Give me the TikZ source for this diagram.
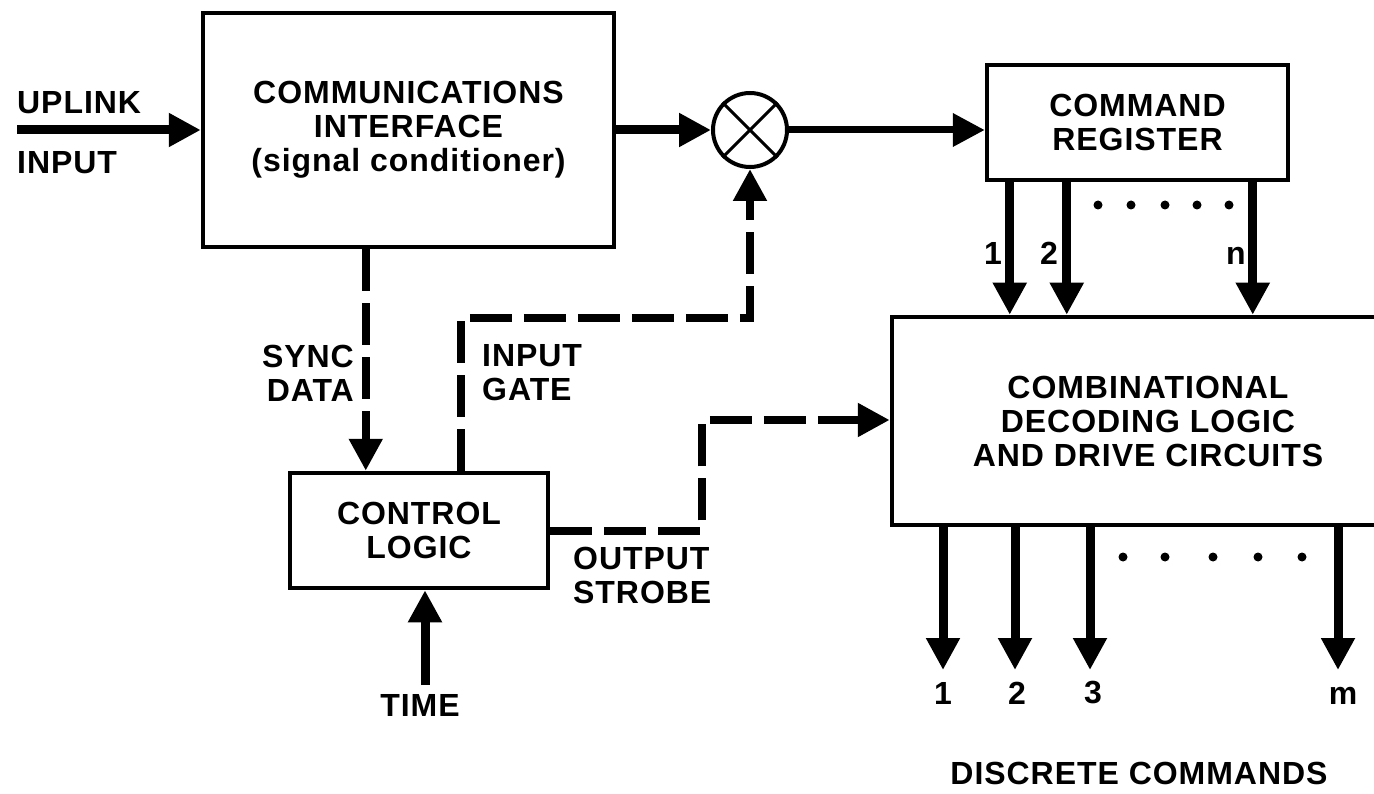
\documentclass[tikz,border=0pt]{standalone}
\usepackage{fontspec}
\setmainfont{Liberation Sans}[LetterSpace=3]
\usetikzlibrary{arrows.meta}
\newcommand\diagfont{\fontsize{32}{34}\selectfont\bfseries}
\begin{document}
\begin{tikzpicture}[x=1pt,y=-1pt,
  box/.style={draw,line width=4.5pt,inner sep=0pt,align=center,font=\diagfont},
  lab/.style={inner sep=0pt,font=\diagfont},
  tip/.style={-{Triangle[length=32pt,width=32pt]}},
  solidarrow/.style={tip,line width=9pt},
  thinarrow/.style={tip,line width=7pt},
  dasharrow/.style={tip,line width=8pt,dash pattern=on 42pt off 12pt,line join=miter},
  dotmark/.style={circle,fill,inner sep=0pt,minimum size=9pt}
]
\useasboundingbox (0,0) rectangle (1374,794);
\clip (0,0) rectangle (1374,794);

% blocks
\node[box,minimum width=411pt,minimum height=234pt] (comm) at (408.5,130)
  {COMMUNICATIONS\\INTERFACE\\(signal conditioner)};
\node[draw,circle,line width=4pt,minimum size=74pt,inner sep=0pt] (mix) at (750,130) {};
\draw[line width=3pt] (mix.north west) -- (mix.south east);
\draw[line width=3pt] (mix.north east) -- (mix.south west);
\node[box,minimum width=301pt,minimum height=115pt] (reg) at (1137.5,122.5)
  {COMMAND\\REGISTER};
\node[box,minimum width=512pt,minimum height=208pt] (comb) at (1148,421)
  {COMBINATIONAL\\DECODING LOGIC\\AND DRIVE CIRCUITS};
\node[box,minimum width=258pt,minimum height=115pt] (ctrl) at (419,530.5)
  {CONTROL\\LOGIC};

% uplink input
\coordinate (upsrc) at (17,130);
\draw[solidarrow] (upsrc) -- (comm.west);
\node[lab,anchor=west] (uplab) at (17,103) {UPLINK};
\node[lab,anchor=west] (inlab) at (17,163) {INPUT};

% comm -> mixer -> register
\draw[solidarrow] (comm.east) -- (mix.west);
\draw[thinarrow] (mix.east) -- (mix.east -| reg.west);

% register -> combinational
\draw[solidarrow] ([xshift=25pt]reg.south west) -- ([xshift=25pt]reg.south west |- comb.north);
\draw[solidarrow] ([xshift=82pt]reg.south west) -- ([xshift=82pt]reg.south west |- comb.north);
\draw[solidarrow] ([xshift=268pt]reg.south west) -- ([xshift=268pt]reg.south west |- comb.north);
\node[lab] (r1) at (993,253) {1};
\node[lab] (r2) at (1049,253) {2};
\node[lab] (rn) at (1236,256) {n};
\foreach \x [count=\i] in {1098,1131,1165,1197,1229}
  \node[dotmark] (rd\i) at (\x,205) {};

% combinational outputs
\foreach \x/\t [count=\i] in {943/1,1015/2,1090/3,1338/m}{
  \coordinate (out\i) at (\x,670);
  \draw[solidarrow] (comb.south -| out\i) -- (out\i);
}
\node[lab] (o1) at (943,693) {1};
\node[lab] (o2) at (1017,693) {2};
\node[lab] (o3) at (1093,693) {3};
\node[lab] (om) at (1343,696) {m};
\foreach \x [count=\i] in {1123,1165,1213,1258,1302}
  \node[dotmark] (od\i) at (\x,557) {};
\node[lab] (disc) at (1139,773) {DISCRETE COMMANDS};

% sync data
\draw[dasharrow] ([xshift=165pt]comm.south west) -- ([xshift=165pt]comm.south west |- ctrl.north);
\node[lab,anchor=east,align=right] (synclab) at (354,373) {SYNC\\DATA};

% input gate
\draw[dasharrow] ([xshift=173pt]ctrl.north west) -- ++(0,-153) -| (mix.south);
\node[lab,anchor=west,align=left] (gatelab) at (482,373) {INPUT\\GATE};

% output strobe
\coordinate (sbend) at (702,420);
\draw[dasharrow] (ctrl.east) -| (sbend) -- (sbend -| comb.west);
\node[lab,anchor=west,align=left] (strobelab) at (573,575) {OUTPUT\\STROBE};

% time
\coordinate (tsrc) at (425,685);
\draw[solidarrow] (tsrc) -- (tsrc |- ctrl.south);
\node[lab] (timelab) at (420,705) {TIME};
\end{tikzpicture}
\end{document}
